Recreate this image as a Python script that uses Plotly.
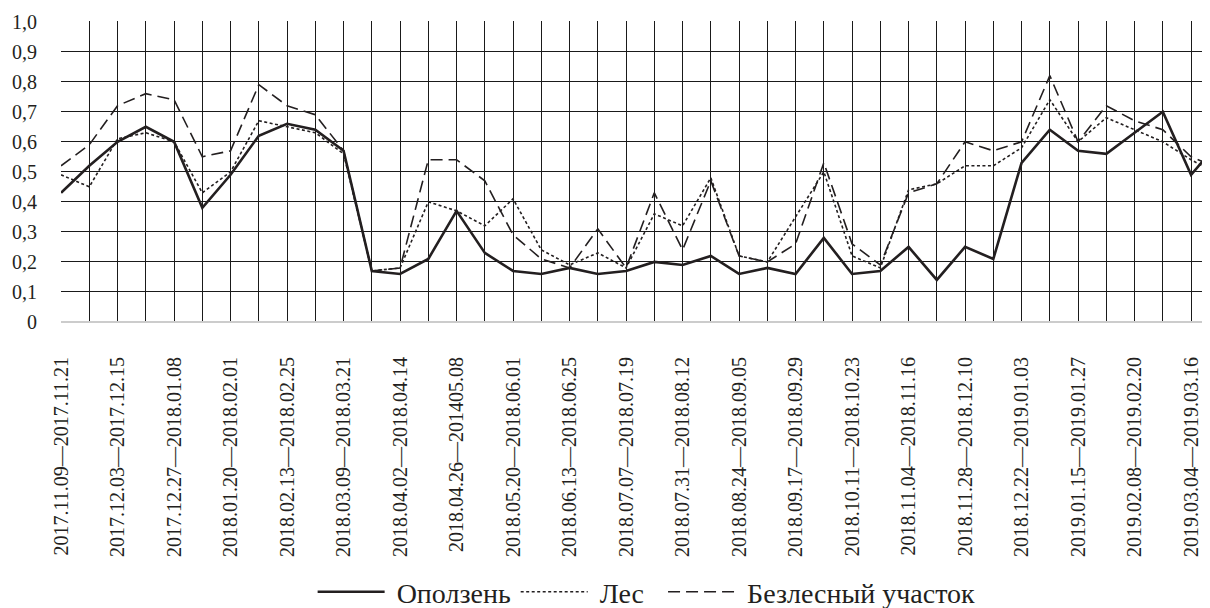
import plotly.graph_objects as go

# category index (12-day periods); labels shown on every other period
x_idx = list(range(42))
tick_idx = list(range(0, 41, 2))
tick_labels = [
    "2017.11.09—2017.11.21", "2017.12.03—2017.12.15", "2017.12.27—2018.01.08",
    "2018.01.20—2018.02.01", "2018.02.13—2018.02.25", "2018.03.09—2018.03.21",
    "2018.04.02—2018.04.14", "2018.04.26—201405.08", "2018.05.20—2018.06.01",
    "2018.06.13—2018.06.25", "2018.07.07—2018.07.19", "2018.07.31—2018.08.12",
    "2018.08.24—2018.09.05", "2018.09.17—2018.09.29", "2018.10.11—2018.10.23",
    "2018.11.04—2018.11.16", "2018.11.28—2018.12.10", "2018.12.22—2019.01.03",
    "2019.01.15—2019.01.27", "2019.02.08—2019.02.20", "2019.03.04—2019.03.16",
]

landslide = [0.43, 0.52, 0.60, 0.65, 0.60, 0.38, 0.49, 0.62, 0.66, 0.64, 0.57,
             0.17, 0.16, 0.21, 0.37, 0.23, 0.17, 0.16, 0.18, 0.16, 0.17,
             0.20, 0.19, 0.22, 0.16, 0.18, 0.16, 0.28, 0.16, 0.17, 0.25,
             0.14, 0.25, 0.21, 0.53, 0.64, 0.57, 0.56, 0.63, 0.70, 0.49, 0.60]
forest = [0.49, 0.45, 0.61, 0.63, 0.60, 0.43, 0.50, 0.67, 0.65, 0.63, 0.56,
          0.17, 0.18, 0.40, 0.37, 0.32, 0.41, 0.24, 0.19, 0.23, 0.18,
          0.36, 0.32, 0.48, 0.22, 0.20, 0.35, 0.50, 0.22, 0.18, 0.44,
          0.46, 0.52, 0.52, 0.58, 0.74, 0.60, 0.68, 0.64, 0.60, 0.54, 0.49]
treeless = [0.52, 0.59, 0.72, 0.76, 0.74, 0.55, 0.57, 0.79, 0.72, 0.69, 0.57,
            0.17, 0.18, 0.54, 0.54, 0.47, 0.29, 0.21, 0.18, 0.31, 0.18,
            0.43, 0.24, 0.47, 0.22, 0.20, 0.26, 0.53, 0.26, 0.19, 0.43,
            0.46, 0.60, 0.57, 0.60, 0.82, 0.60, 0.72, 0.67, 0.64, 0.55, 0.51]

series_names = ["Оползень", "Лес", "Безлесный участок"]

y_ticks = [0, 0.1, 0.2, 0.3, 0.4, 0.5, 0.6, 0.7, 0.8, 0.9, 1.0]
y_tick_text = ["0", "0,1", "0,2", "0,3", "0,4", "0,5", "0,6", "0,7", "0,8", "0,9", "1,0"]

ink = "#231f20"
font_family = "Liberation Serif"
nb = "\u00a0"

fig = go.Figure()
fig.add_trace(go.Scatter(x=x_idx, y=landslide, mode="lines", name=nb + series_names[0],
                         line=dict(color=ink, width=2.6)))
fig.add_trace(go.Scatter(x=x_idx, y=forest, mode="lines", name=nb + series_names[1] + nb + nb,
                         line=dict(color=ink, width=1.6, dash="3px,2.5px")))
fig.add_trace(go.Scatter(x=x_idx, y=treeless, mode="lines", name=nb + series_names[2],
                         line=dict(color=ink, width=1.6, dash="12px,6px")))

# page body has an 8px margin, so the figure is 8px smaller and margins shifted
fig.update_layout(
    width=1202, height=600,
    margin=dict(l=53, r=0, t=13, b=286, autoexpand=False),
    paper_bgcolor="white", plot_bgcolor="white",
    font=dict(family=font_family, color=ink, size=20),
    showlegend=True,
    legend=dict(orientation="h", x=0.219, xanchor="left", y=-0.897, yanchor="middle",
                font=dict(size=28, family=font_family, color=ink),
                itemwidth=67, tracegroupgap=0, bgcolor="rgba(0,0,0,0)"),
    xaxis=dict(
        range=[-0.002, 40.67], tickmode="array", tickvals=tick_idx, ticktext=tick_labels,
        tickangle=-90, showgrid=True, gridcolor="#1a1a1a", gridwidth=1,
        zeroline=False, showline=False, ticks="", automargin=False,
        ticklabelstandoff=30,
        tickfont=dict(size=20, family=font_family, color=ink),
        minor=dict(dtick=1, tick0=0, showgrid=True, gridcolor="#1a1a1a", gridwidth=1),
    ),
    yaxis=dict(
        range=[0, 1.002], tickmode="array", tickvals=y_ticks, ticktext=y_tick_text,
        showgrid=True, gridcolor="#1a1a1a", gridwidth=1,
        zeroline=True, zerolinecolor="#cccccc", zerolinewidth=2,
        showline=False, ticks="", ticklabelstandoff=23, automargin=False,
        tickfont=dict(size=20, family=font_family, color=ink),
    ),
)

fig.write_html("out.html")
